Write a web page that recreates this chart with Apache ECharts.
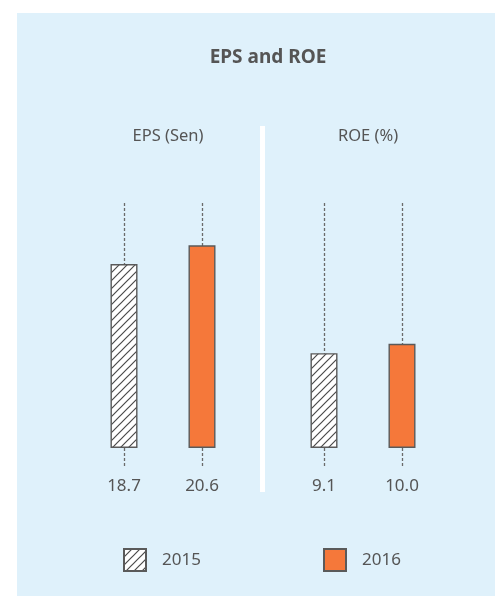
<!DOCTYPE html>
<html>
<head>
<meta charset="utf-8">
<script src="https://cdn.jsdelivr.net/npm/echarts@6/dist/echarts.min.js"></script>
<style>
html,body{margin:0;padding:0;background:#fff;}
#chart{width:495px;height:596px;}
</style>
</head>
<body>
<div id="chart"></div>
<script>
// ---- data ----
var categories = ['2015', '2016'];
var epsValues = [18.7, 20.6];
var roeValues = [9.1, 10.0];
var panelTitles = ['EPS (Sen)', 'ROE (%)'];
var chartTitle = 'EPS and ROE';

// ---- styles ----
var FONT = '"Noto Sans", "Open Sans", sans-serif';
var TEXT = '#555555';
var ORANGE = '#f5783a';
var BORDER = '#5a5a5a';

function makeHatch() {
  var c = document.createElement('canvas');
  var s = 8;
  c.width = s; c.height = s;
  var g = c.getContext('2d');
  g.fillStyle = '#ffffff';
  g.fillRect(0, 0, s, s);
  g.strokeStyle = '#4a4a4a';
  g.lineWidth = 1.2;
  g.beginPath();
  g.moveTo(-1, s + 1); g.lineTo(s + 1, -1);
  g.moveTo(-1, 1); g.lineTo(1, -1);
  g.moveTo(s - 1, s + 1); g.lineTo(s + 1, s - 1);
  g.stroke();
  return c;
}
var hatch = { image: makeHatch(), repeat: 'repeat' };

function seriesFor(name, idx, values, axisIndex, color) {
  var data = values.map(function (v, i) { return i === idx ? v : '-'; });
  return {
    type: 'bar',
    name: name,
    xAxisIndex: axisIndex,
    yAxisIndex: axisIndex,
    data: data,
    barWidth: 27,
    barGap: '-100%',
    z: 3,
    itemStyle: { color: color, borderColor: BORDER, borderWidth: 1.4 },
    label: {
      show: true, position: 'bottom', distance: 30,
      color: TEXT, fontSize: 17, fontFamily: FONT,
      formatter: function (p) { return Number(p.value).toFixed(1); }
    },
    markLine: {
      silent: true, symbol: 'none', z: 1,
      label: { show: false },
      lineStyle: { color: '#6a6a6a', type: [3, 2], width: 1.3 },
      data: [{ xAxis: categories[idx] }]
    }
  };
}

var chart = echarts.init(document.getElementById('chart'), null, { renderer: 'canvas' });
chart.setOption({
  animation: false,
  backgroundColor: '#ffffff',
  graphic: [
    { type: 'rect', z: -10, shape: { x: 17, y: 13, width: 500, height: 600 }, style: { fill: '#dff1fb' } },
    { type: 'rect', z: -9, shape: { x: 260, y: 126, width: 5, height: 366 }, style: { fill: '#ffffff' } }
  ],
  title: [
    { text: chartTitle, left: 263, top: 43, textAlign: 'center',
      textStyle: { fontFamily: FONT, fontSize: 19, fontWeight: 'bold', color: TEXT } },
    { text: panelTitles[0], left: 163, top: 123, textAlign: 'center',
      textStyle: { fontFamily: FONT, fontSize: 16.5, fontWeight: 'normal', color: TEXT } },
    { text: panelTitles[1], left: 363, top: 123, textAlign: 'center',
      textStyle: { fontFamily: FONT, fontSize: 16.5, fontWeight: 'normal', color: TEXT } }
  ],
  legend: [
    { data: [categories[0]], left: 118, top: 543, itemWidth: 22, itemHeight: 22, icon: 'rect',
      selectedMode: false,
      textStyle: { fontFamily: FONT, fontSize: 17, color: TEXT, padding: [0, 0, 0, 11] } },
    { data: [categories[1]], left: 318, top: 543, itemWidth: 22, itemHeight: 22, icon: 'rect',
      selectedMode: false,
      textStyle: { fontFamily: FONT, fontSize: 17, color: TEXT, padding: [0, 0, 0, 11] } }
  ],
  grid: [
    { left: 85, top: 202, width: 156, height: 264 },
    { left: 285, top: 202, width: 156, height: 264 }
  ],
  xAxis: [
    { type: 'category', gridIndex: 0, data: categories, show: false },
    { type: 'category', gridIndex: 1, data: categories, show: false }
  ],
  yAxis: [
    { type: 'value', gridIndex: 0, min: -1.83, max: 25, show: false, splitLine: { show: false } },
    { type: 'value', gridIndex: 1, min: -1.73, max: 23.6, show: false, splitLine: { show: false } }
  ],
  series: [
    seriesFor(categories[0], 0, epsValues, 0, hatch),
    seriesFor(categories[1], 1, epsValues, 0, ORANGE),
    seriesFor(categories[0], 0, roeValues, 1, hatch),
    seriesFor(categories[1], 1, roeValues, 1, ORANGE)
  ]
});
</script>
</body>
</html>
